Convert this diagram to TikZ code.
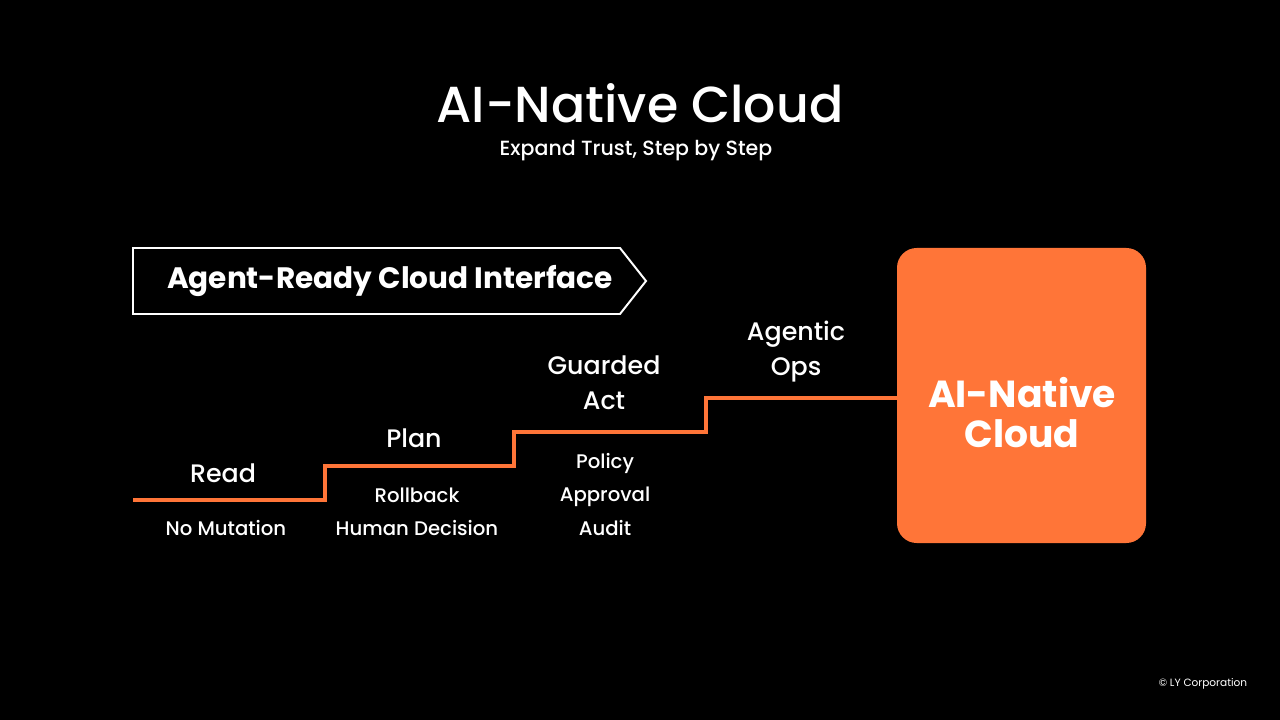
\documentclass[tikz,border=0pt]{standalone}
\usepackage{fontspec}
\setmainfont{Poppins}
\newfontfamily\medfont{Poppins Medium}
\usetikzlibrary{positioning, shapes.symbols}
\definecolor{lyorange}{RGB}{255,117,56}

\begin{document}
\begin{tikzpicture}[
    x=0.025cm, y=-0.025cm,
    title/.style={text=white, font=\medfont\fontsize{36}{40}\selectfont},
    subtitle/.style={text=white, font=\medfont\fontsize{14.6}{17}\selectfont},
    banner/.style={signal, signal to=east, signal from=nowhere, signal pointer angle=103.5, draw=white, line width=1.4pt, minimum width=513*0.025cm, minimum height=66*0.025cm},
    bannertext/.style={text=white, font=\bfseries\fontsize{21}{25}\selectfont},
    goal/.style={rectangle, fill=lyorange, rounded corners=14pt, minimum width=249*0.025cm, minimum height=295*0.025cm},
    goaltext/.style={align=center, text=white, font=\bfseries\fontsize{26.8}{28.4}\selectfont},
    steplabel/.style={text=white, align=center, font=\medfont\fontsize{18}{24.8}\selectfont},
    stepnote/.style={text=white, align=center, font=\medfont\fontsize{14}{23.8}\selectfont},
    stair/.style={lyorange, line width=3.2pt},
]
    \fill[black] (0,0) rectangle (1280,720);

    \node[title] (title) at (640,103) {AI-Native Cloud};
    \node[subtitle] (sub) at (636,151) {Expand Trust, Step by Step};

    \node[banner] (iface) at (376.5,281) {};
    \node[bannertext] (ifacelabel) at (390,281) {Agent-Ready Cloud Interface};
    \node[goal] (goal) at (1021.5,395.5) {};
    \node[goaltext] (goallabel) at (1022,413) {AI-Native\\Cloud};

    % stair corners
    \coordinate (s0) at (133,500);
    \coordinate (s1) at (325,466);
    \coordinate (s2) at (514,432);
    \coordinate (s3) at (706,398);
    \draw[stair] (s0) -| (s1) -| (s2) -| (s3) -- (goal.west |- s3);

    \node[steplabel] (read) at (223,473) {Read};
    \node[stepnote] (readnote) at (226,528) {No Mutation};
    \node[steplabel] (plan) at (414,438) {Plan};
    \node[stepnote] (plannote) at (417,512) {Rollback\\Human Decision};
    \node[steplabel] (act) at (604,382.5) {Guarded\\Act};
    \node[stepnote] (actnote) at (605,494.5) {Policy\\Approval\\Audit};
    \node[steplabel] (ops) at (796,351.5) {Agentic\\Ops};

    \node[text=white, font=\fontsize{7.5}{9}\selectfont] (copy) at (1203,684) {© LY Corporation};
\end{tikzpicture}
\end{document}
